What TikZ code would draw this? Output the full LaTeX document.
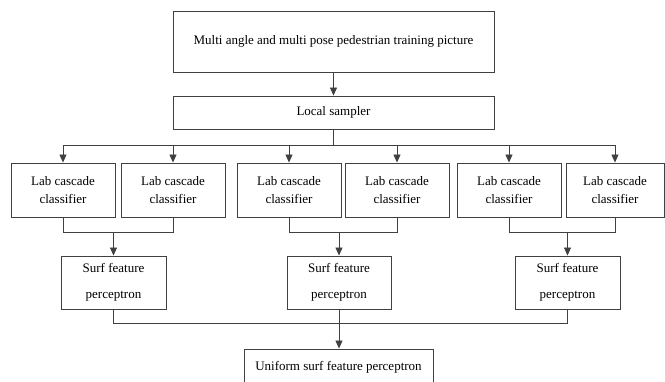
\documentclass[tikz,border=0pt]{standalone}
\usepackage{fontspec}
\setmainfont{Liberation Serif}
\usetikzlibrary{arrows.meta,shadows}
\tikzset{box/.style={draw=black!75, line width=0.9pt, fill=white, align=center,
    inner sep=0pt, font=\fontsize{13}{17.5}\selectfont,
    drop shadow={shadow xshift=1.3pt, shadow yshift=-1.3pt, fill=black!35, opacity=0.8}},
  arr/.style={draw=black!75, line width=0.9pt, -{Triangle[length=8pt,width=7pt]}},
  ln/.style={draw=black!75, line width=0.9pt}
}

\begin{document}
\begin{tikzpicture}[x=1pt,y=-1pt]
                \useasboundingbox (0,0) rectangle (665,382);
                
                % Top
                \node[box, minimum width=321pt, minimum height=61pt] (pic) at (333.5,41.5) {Multi angle and multi pose pedestrian training picture};
                \node[box, minimum width=321pt, minimum height=33pt] (sampler) at (333.5,112.5) {Local sampler};
                
                % Lab classifiers
                \node[box, minimum width=104pt, minimum height=54pt] (lab1) at (63,190) {Lab cascade\\classifier};
                \node[box, minimum width=104pt, minimum height=54pt] (lab2) at (173,190) {Lab cascade\\classifier};
                \node[box, minimum width=104pt, minimum height=54pt] (lab3) at (289,190) {Lab cascade\\classifier};
                \node[box, minimum width=104pt, minimum height=54pt] (lab4) at (397,190) {Lab cascade\\classifier};
                \node[box, minimum width=104pt, minimum height=54pt] (lab5) at (509,190) {Lab cascade\\classifier};
                \node[box, minimum width=98pt, minimum height=54pt] (lab6) at (615,190) {Lab cascade\\classifier};
                
                % Perceptrons
                \node[box, minimum width=105pt, minimum height=53pt] (surf1) at (113.5,282.5) {Surf feature\\[9pt]perceptron};
                \node[box, minimum width=104pt, minimum height=53pt] (surf2) at (339,282.5) {Surf feature\\[9pt]perceptron};
                \node[box, minimum width=105pt, minimum height=53pt] (surf3) at (567.5,282.5) {Surf feature\\[9pt]perceptron};
                
                \node[box, minimum width=189pt, minimum height=36pt] (uniform) at (338.5,367) {Uniform surf feature perceptron};
                
                % Connectors
                \draw[arr] (pic) -- (sampler);
                \coordinate (bus) at (333.5,145);
                \foreach \k in {1,...,6}
                    \draw[arr] (sampler.south) -- (sampler.south |- bus) -| (lab\k.north);
                
                \coordinate (join) at (0,232);
                \draw[ln] (lab1.south) |- (join -| lab2.south) -- (lab2.south);
                \draw[ln] (lab3.south) |- (join -| lab4.south) -- (lab4.south);
                \draw[ln] (lab5.south) |- (join -| lab6.south) -- (lab6.south);
                \draw[arr] (surf1.north |- join) -- (surf1.north);
                \draw[arr] (surf2.north |- join) -- (surf2.north);
                \draw[arr] (surf3.north |- join) -- (surf3.north);
                
                \coordinate (bottom) at (0,323.5);
                \draw[ln] (surf1.south) |- (bottom -| surf3.south) -- (surf3.south);
                \draw[arr] (surf2.south) -- (surf2.south |- uniform.north);
\end{tikzpicture}
\end{document}
